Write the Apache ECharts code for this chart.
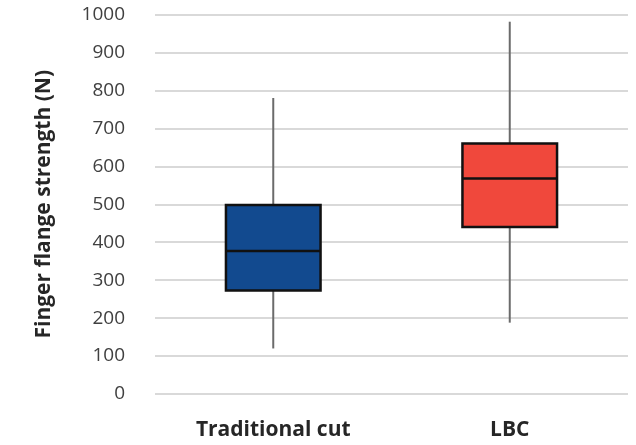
<!DOCTYPE html>
<html>
<head>
<meta charset="utf-8">
<script src="https://cdn.jsdelivr.net/npm/echarts@6/dist/echarts.min.js"></script>
<style>html,body{margin:0;padding:0;background:#fff}#c{width:636px;height:445px}</style>
</head>
<body>
<div id="c"></div>
<script>
const categories = ['Traditional cut', 'LBC'];
const minValues = [120, 188];
const q1Values = [273, 440];
const medianValues = [377, 568];
const q3Values = [498, 660];
const maxValues = [780, 981];
const boxColors = ['#124A8F', '#F0483C'];
const yTicks = { min: 0, max: 1000, interval: 100 };

const chart = echarts.init(document.getElementById('c'), null, { renderer: 'canvas' });
const data = categories.map((c, i) => [i, minValues[i], q1Values[i], medianValues[i], q3Values[i], maxValues[i]]);

chart.setOption({
  animation: false,
  grid: { left: 155, right: 8, top: 14.5, bottom: 51, containLabel: false },
  xAxis: {
    type: 'category',
    data: categories,
    axisLine: { show: false },
    axisTick: { show: false },
    axisLabel: { margin: 26, fontFamily: 'Open Sans', fontWeight: 'bold', fontSize: 21, color: '#262626' }
  },
  yAxis: {
    type: 'value',
    min: yTicks.min, max: yTicks.max, interval: yTicks.interval,
    name: 'Finger flange strength (N)',
    nameLocation: 'middle',
    nameGap: 100,
    nameTextStyle: { fontFamily: 'Open Sans', fontWeight: 'bold', fontSize: 21, color: '#262626' },
    axisLine: { show: false },
    axisTick: { show: false },
    axisLabel: { margin: 30, fontFamily: 'Open Sans', fontSize: 19, color: '#404040', formatter: function (v) { return String(v); } },
    splitLine: { lineStyle: { color: '#d9d9d9', width: 2 } }
  },
  series: [{
    type: 'custom',
    data: data,
    encode: { x: 0, y: [1, 2, 3, 4, 5] },
    renderItem: function (params, api) {
      const idx = api.value(0);
      const bw = api.size([1, 0])[0] * 0.4;
      const pMin = api.coord([idx, api.value(1)]);
      const pQ1 = api.coord([idx, api.value(2)]);
      const pMed = api.coord([idx, api.value(3)]);
      const pQ3 = api.coord([idx, api.value(4)]);
      const pMax = api.coord([idx, api.value(5)]);
      const x = pMin[0];
      return {
        type: 'group',
        children: [
          { type: 'line', shape: { x1: x, y1: pMin[1], x2: x, y2: pQ1[1] }, style: { stroke: '#6b6b6b', lineWidth: 2 } },
          { type: 'line', shape: { x1: x, y1: pQ3[1], x2: x, y2: pMax[1] }, style: { stroke: '#6b6b6b', lineWidth: 2 } },
          { type: 'rect', shape: { x: x - bw / 2, y: pQ3[1], width: bw, height: pQ1[1] - pQ3[1] }, style: { fill: boxColors[idx], stroke: '#111', lineWidth: 2.5 } },
          { type: 'line', shape: { x1: x - bw / 2, y1: pMed[1], x2: x + bw / 2, y2: pMed[1] }, style: { stroke: '#111', lineWidth: 2.5 } }
        ]
      };
    }
  }]
});
</script>
</body>
</html>
